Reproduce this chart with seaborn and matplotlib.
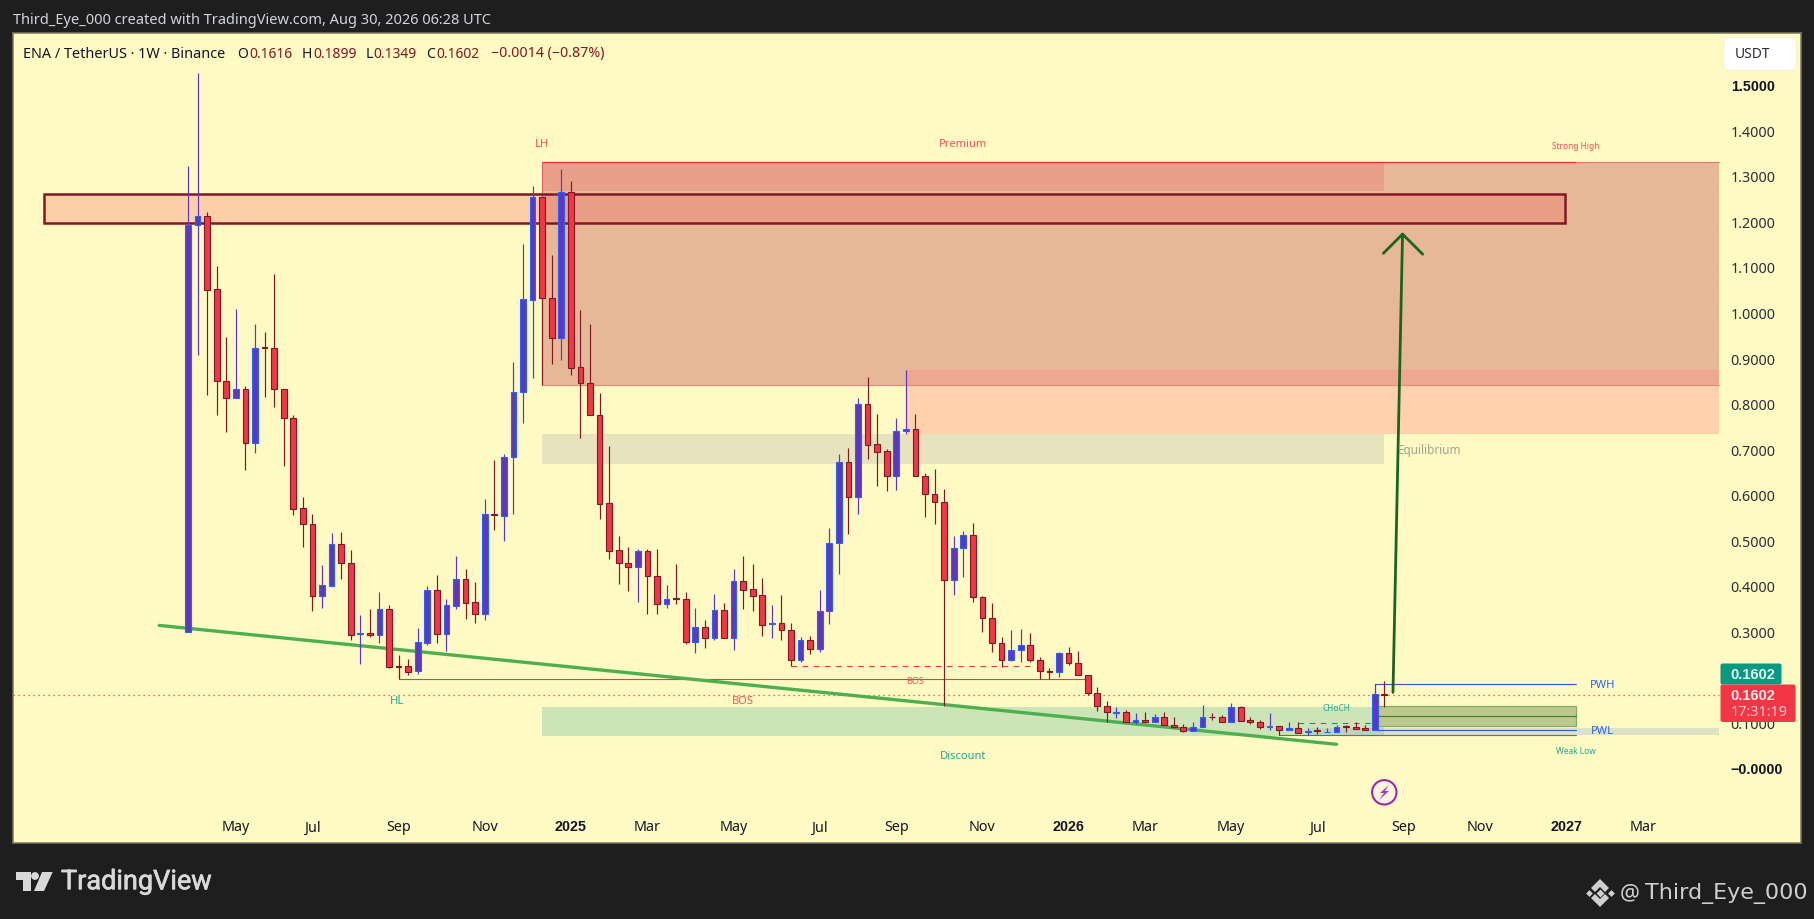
import matplotlib
matplotlib.use("Agg")
import matplotlib.pyplot as plt
import matplotlib.patheffects as pe
from matplotlib.patches import Circle, FancyBboxPatch, Polygon, Rectangle
import numpy as np
import pandas as pd
import seaborn as sns

# weekly candles, ENA / USDT
opens = [0.299, 1.191, 1.211, 1.051, 0.849, 0.813, 0.831, 0.714, 0.924, 0.921, 0.831, 0.768, 0.570, 0.535,
         0.378, 0.400, 0.491, 0.449, 0.295, 0.296, 0.293, 0.350, 0.223, 0.223, 0.213, 0.274, 0.391, 0.295,
         0.356, 0.415, 0.364, 0.337, 0.557, 0.554, 0.682, 0.825, 1.028, 1.253, 1.031, 0.945, 1.264, 0.880,
         0.846, 0.776, 0.581, 0.478, 0.451, 0.442, 0.476, 0.421, 0.359, 0.373, 0.370, 0.277, 0.309, 0.286,
         0.346, 0.286, 0.410, 0.392, 0.379, 0.316, 0.318, 0.304, 0.238, 0.280, 0.262, 0.344, 0.493, 0.671,
         0.594, 0.798, 0.711, 0.695, 0.640, 0.739, 0.744, 0.642, 0.601, 0.585, 0.413, 0.482, 0.511, 0.375,
         0.329, 0.275, 0.238, 0.260, 0.269, 0.236, 0.212, 0.210, 0.252, 0.230, 0.205, 0.164, 0.137, 0.121,
         0.122, 0.100, 0.105, 0.100, 0.111, 0.095, 0.091, 0.082, 0.091, 0.112, 0.111, 0.102, 0.133, 0.105,
         0.100, 0.091, 0.092, 0.084, 0.087, 0.078, 0.083, 0.079, 0.080, 0.092, 0.091, 0.087, 0.083, 0.1616]
closes = [1.192, 1.212, 1.050, 0.850, 0.813, 0.831, 0.714, 0.921, 0.923, 0.831, 0.768, 0.569, 0.535, 0.378,
          0.402, 0.491, 0.449, 0.293, 0.297, 0.291, 0.348, 0.222, 0.222, 0.211, 0.276, 0.391, 0.295, 0.358,
          0.415, 0.363, 0.337, 0.558, 0.556, 0.682, 0.825, 1.029, 1.253, 1.031, 0.943, 1.264, 0.879, 0.846,
          0.776, 0.580, 0.477, 0.449, 0.442, 0.476, 0.421, 0.359, 0.372, 0.372, 0.277, 0.309, 0.286, 0.346,
          0.286, 0.410, 0.391, 0.378, 0.315, 0.318, 0.304, 0.238, 0.280, 0.262, 0.344, 0.493, 0.671, 0.594,
          0.798, 0.710, 0.694, 0.640, 0.739, 0.744, 0.642, 0.601, 0.585, 0.413, 0.482, 0.511, 0.375, 0.329,
          0.275, 0.238, 0.260, 0.269, 0.236, 0.212, 0.211, 0.252, 0.230, 0.205, 0.164, 0.137, 0.122, 0.122,
          0.100, 0.105, 0.100, 0.111, 0.095, 0.091, 0.082, 0.091, 0.113, 0.111, 0.102, 0.133, 0.104, 0.100,
          0.089, 0.092, 0.084, 0.087, 0.077, 0.082, 0.082, 0.080, 0.091, 0.091, 0.086, 0.083, 0.162, 0.1602]
highs = [1.322, 1.526, 1.220, 1.103, 0.946, 1.008, 0.838, 0.975, 0.958, 1.085, 0.831, 0.775, 0.595, 0.558,
         0.446, 0.516, 0.518, 0.479, 0.336, 0.349, 0.386, 0.358, 0.247, 0.239, 0.307, 0.400, 0.424, 0.371,
         0.465, 0.437, 0.408, 0.591, 0.676, 0.689, 0.891, 1.150, 1.278, 1.253, 1.126, 1.315, 1.289, 1.006,
         0.975, 0.823, 0.706, 0.509, 0.485, 0.481, 0.481, 0.481, 0.402, 0.448, 0.386, 0.351, 0.325, 0.382,
         0.362, 0.437, 0.465, 0.448, 0.417, 0.358, 0.380, 0.318, 0.287, 0.289, 0.391, 0.527, 0.689, 0.703,
         0.812, 0.858, 0.777, 0.700, 0.768, 0.874, 0.777, 0.648, 0.656, 0.612, 0.509, 0.520, 0.538, 0.377,
         0.362, 0.287, 0.303, 0.305, 0.296, 0.243, 0.219, 0.254, 0.265, 0.256, 0.205, 0.177, 0.146, 0.133,
         0.127, 0.121, 0.123, 0.119, 0.123, 0.112, 0.096, 0.102, 0.138, 0.121, 0.116, 0.143, 0.135, 0.111,
         0.105, 0.121, 0.092, 0.100, 0.100, 0.087, 0.091, 0.087, 0.094, 0.094, 0.100, 0.094, 0.184, 0.1899]
lows = [0.299, 0.907, 0.819, 0.774, 0.738, 0.813, 0.655, 0.692, 0.815, 0.793, 0.664, 0.556, 0.486, 0.345,
        0.352, 0.400, 0.415, 0.280, 0.229, 0.288, 0.274, 0.220, 0.195, 0.204, 0.206, 0.269, 0.274, 0.257,
        0.349, 0.327, 0.318, 0.325, 0.523, 0.499, 0.558, 0.758, 0.857, 0.840, 0.886, 0.896, 0.863, 0.725,
        0.776, 0.547, 0.459, 0.405, 0.389, 0.365, 0.339, 0.337, 0.352, 0.361, 0.272, 0.253, 0.263, 0.282,
        0.286, 0.259, 0.348, 0.345, 0.290, 0.286, 0.282, 0.223, 0.233, 0.251, 0.255, 0.316, 0.426, 0.514,
        0.558, 0.678, 0.620, 0.607, 0.611, 0.733, 0.642, 0.552, 0.536, 0.135, 0.380, 0.420, 0.365, 0.299,
        0.255, 0.221, 0.235, 0.233, 0.233, 0.195, 0.195, 0.200, 0.227, 0.205, 0.160, 0.124, 0.102, 0.110,
        0.100, 0.097, 0.100, 0.100, 0.095, 0.088, 0.079, 0.082, 0.091, 0.106, 0.102, 0.102, 0.104, 0.097,
        0.086, 0.083, 0.072, 0.084, 0.077, 0.072, 0.075, 0.079, 0.080, 0.080, 0.086, 0.083, 0.083, 0.1349]

price_ticks = [1.5, 1.4, 1.3, 1.2, 1.1, 1.0, 0.9, 0.8, 0.7, 0.6, 0.5, 0.4, 0.3, 0.2, 0.1, 0.0]
price_labels = ["1.5000", "1.4000", "1.3000", "1.2000", "1.1000", "1.0000", "0.9000", "0.8000",
                "0.7000", "0.6000", "0.5000", "0.4000", "0.3000", "0.2000", "0.1000", "\u22120.0000"]
month_bars = [5, 13, 22, 31, 40, 48, 57, 66, 74, 83, 92, 100, 109, 118, 127, 135, 144, 152]
month_labels = ["May", "Jul", "Sep", "Nov", "2025", "Mar", "May", "Jul", "Sep", "Nov", "2026",
                "Mar", "May", "Jul", "Sep", "Nov", "2027", "Mar"]

trend_bars = [-3, 120]
trend_prices = [0.313, 0.052]
arrow_bars = [125.9, 126.9]
arrow_prices = [0.166, 1.172]
arrow_head_bars = [124.9, 126.9, 129.0]
arrow_head_prices = [1.130, 1.172, 1.128]
last_price = 0.1602

BG = "#1e1e1e"
PAPER = "#fff9c4"
UP_FILL = "#5c38be"
UP_EDGE = "#2962ff"
UP_WICK = "#5e35c8"
DOWN_FILL = "#f23645"
DOWN_EDGE = "#801922"
RED_TXT = "#f7525f"
TEAL = "#089981"
TEAL_TXT = "#22ab94"
BLUE = "#2f55d4"
BOLD_FONT = "Liberation Sans"

sns.set_theme(style="white")
plt.rcParams["font.family"] = ["Noto Sans", "DejaVu Sans"]

fig = plt.figure(figsize=(18.14, 9.2), dpi=100, facecolor=BG)
ax = fig.add_axes([13.4 / 1814, 76 / 920, 1787.3 / 1814, 810 / 920], facecolor=PAPER)
ax.set_xlim(-18.24, 168.5)
ax.set_ylim(-0.1647, 1.6136)


def zone(x0, x1, p0, p1, color, z=1, **kw):
    ax.add_patch(Rectangle((x0, p0), x1 - x0, p1 - p0, facecolor=color, edgecolor="none", zorder=z, **kw))


# smart money zones
zone(37, 160, 0.840, 1.330, "#e6b898")
zone(37, 125, 1.266, 1.330, "#e9a08a", z=1.1)
zone(75, 160, 0.840, 0.874, "#eea791", z=1.1)
zone(75, 160, 0.733, 0.840, "#ffd2ad")
zone(37, 125, 0.667, 0.733, "#e6e3bd", z=1.2)
zone(37, 125, 0.070, 0.134, "#cde4b6")
zone(117, 160, 0.0724, 0.0878, "#9fb8c8", z=1.2, alpha=0.35)
ax.plot([37, 145], [1.330, 1.330], color="#e0303a", lw=0.9, zorder=1.5)
ax.plot([145, 160], [1.330, 1.330], color="#e68070", lw=0.9, zorder=1.5)
ax.plot([37, 37], [0.840, 1.330], color="#e0606a", lw=0.8, zorder=1.5)
ax.plot([37, 160], [0.840, 0.840], color="#e58b78", lw=0.8, zorder=1.5)

# the big supply box
ax.add_patch(Rectangle((-15, 1.196), 158.9, 0.065, facecolor=(247 / 255, 70 / 255, 74 / 255, 0.23),
                       edgecolor=DOWN_EDGE, lw=1.8, zorder=2))

# previous week box
ax.add_patch(Rectangle((124, 0.093), 21, 0.0424, facecolor="#bbc98e", edgecolor="#7fb069", lw=0.9, zorder=2))
ax.plot([124, 145], [0.1135, 0.1135], color="#4f7f2f", lw=0.9, zorder=2.1)

# structure lines
ax.plot([22, 22], [0.195, 0.222], color=DOWN_FILL, lw=0.8, zorder=2.2)
ax.plot([22, 94], [0.1947, 0.1947], color=DOWN_FILL, lw=0.8, zorder=2.2)
ax.plot([63, 88], [0.2232, 0.2232], color=DOWN_FILL, lw=0.8, ls=(0, (5, 5)), zorder=2.2)
ax.plot([116, 124], [0.0995, 0.0995], color=TEAL, lw=0.8, ls=(0, (5, 5)), zorder=2.2)
ax.plot([114, 145], [0.0717, 0.0717], color=TEAL, lw=0.8, zorder=2.2)
ax.plot([124, 145], [0.0827, 0.0827], color=BLUE, lw=0.8, zorder=2.2)
ax.plot([124, 124, 145], [0.162, 0.1837, 0.1837], color=BLUE, lw=0.8, zorder=2.2)
ax.plot([-18.24, 160], [last_price, last_price], color="#d0453f", lw=0.9, ls=(0, (1, 3)), zorder=2.2)

trend = pd.DataFrame({"bar": trend_bars, "price": trend_prices})
sns.lineplot(data=trend, x="bar", y="price", color="#4caf50", lw=2.4, ax=ax, zorder=3,
             solid_capstyle="round", errorbar=None)

# candles
candles = pd.DataFrame({"open": opens, "high": highs, "low": lows, "close": closes})
candles["bar"] = np.arange(len(candles))
candles["up"] = candles["close"] >= candles["open"]
for is_up, part in candles.groupby("up"):
    ax.vlines(part["bar"], part["low"], part["high"], color=UP_WICK if is_up else DOWN_EDGE, lw=0.85, zorder=4)
    bottoms = part[["open", "close"]].min(axis=1)
    heights = (part["close"] - part["open"]).abs()
    ax.bar(part["bar"], heights, bottom=bottoms, width=0.6, color=UP_FILL if is_up else DOWN_FILL,
           edgecolor=UP_EDGE if is_up else DOWN_EDGE, linewidth=0.8, zorder=5)

# target arrow
ax.plot(arrow_bars, arrow_prices, color="#1b6420", lw=2.0, zorder=6, solid_capstyle="round")
ax.plot(arrow_head_bars, arrow_head_prices, color="#1b6420", lw=2.0, zorder=6, solid_capstyle="round")

# drawing labels
ax.text(37, 1.372, "LH", color=RED_TXT, fontsize=8, ha="center", va="center", zorder=7)
ax.text(81, 1.372, "Premium", color=RED_TXT, fontsize=8, ha="center", va="center", zorder=7)
ax.text(145, 1.366, "Strong High", color=RED_TXT, fontsize=6, ha="center", va="center", zorder=7)
ax.text(129.7, 0.7, "Equilibrium", color="#a3a38f", fontsize=8.5, ha="center", va="center", zorder=7)
ax.text(21.8, 0.149, "HL", color=TEAL_TXT, fontsize=8, ha="center", va="center", zorder=7)
ax.text(58, 0.149, "BOS", color=RED_TXT, fontsize=8, ha="center", va="center", zorder=7)
ax.text(76, 0.192, "BOS", color=RED_TXT, fontsize=6.5, ha="center", va="center", zorder=7)
ax.text(81, 0.028, "Discount", color=TEAL_TXT, fontsize=8, ha="center", va="center", zorder=7)
ax.text(120, 0.132, "CHoCH", color=TEAL_TXT, fontsize=6, ha="center", va="center", zorder=7)
ax.text(147.8, 0.184, "PWH", color=UP_EDGE, fontsize=8, ha="center", va="center", zorder=7)
ax.text(147.8, 0.0825, "PWL", color=UP_EDGE, fontsize=8, ha="center", va="center", zorder=7)
ax.text(145, 0.038, "Weak Low", color=TEAL_TXT, fontsize=6, ha="center", va="center", zorder=7)

# axes, drawn inside the pane like the price scale
ax.set_xlabel("")
ax.set_ylabel("")
ax.set_xticks(month_bars, month_labels)
ax.yaxis.tick_right()
ax.set_yticks(price_ticks, price_labels)
ax.tick_params(axis="x", length=0, pad=-17, labelsize=10.3, labelcolor="#131722")
ax.tick_params(axis="y", length=0, pad=-50.4, labelsize=10.3, labelcolor="#2a2e39")
for lab in ax.get_xticklabels():
    if lab.get_text().startswith("202"):
        lab.set_fontweight("bold")
        lab.set_family(BOLD_FONT)
for lab in ax.get_yticklabels():
    lab.set_ha("left")
    if lab.get_text() in ("1.5000", "\u22120.0000"):
        lab.set_fontweight("bold")
        lab.set_family(BOLD_FONT)
        lab.set_color("#131722")
ax.grid(False)
for side in ax.spines.values():
    side.set_color("#77775f")
    side.set_linewidth(1.1)

# screenshot chrome on top, in picture pixels
top = fig.add_axes([0, 0, 1, 1], facecolor="none")
top.set_xlim(0, 1814)
top.set_ylim(920, 0)
top.axis("off")

top.text(13, 20, "Third_Eye_000 created with TradingView.com, Aug 30, 2026 06:28 UTC", color="#d1d4dc",
         fontsize=10.5, va="center")
top.text(23, 54, "ENA / TetherUS \u00b7 1W \u00b7 Binance", color="#131722", fontsize=10.4, va="center")
legend_keys = [("O", 237, "0.1616", 249.5), ("H", 302, "0.1899", 313), ("L", 366, "0.1349", 373.5),
               ("C", 426.5, "0.1602", 436.5)]
for key, kx, val, vx in legend_keys:
    top.text(kx, 54, key, color="#131722", fontsize=10, va="center")
    top.text(vx, 54, val, color=DOWN_EDGE, fontsize=10, va="center")
top.text(491, 54, "\u22120.0014 (\u22120.87%)", color=DOWN_EDGE, fontsize=10.2, va="center")

top.add_patch(FancyBboxPatch((1727, 42), 66, 26, boxstyle="round,pad=3,rounding_size=5",
                             facecolor="white", edgecolor="#eeeeee", lw=0.5))
top.text(1735, 54, "USDT", color="#2a2e39", fontsize=10, va="center")

# last price tags
top.add_patch(FancyBboxPatch((1721, 665), 60, 20, boxstyle="round,pad=0.5,rounding_size=2",
                             facecolor=TEAL, edgecolor="none"))
top.text(1753, 675, "0.1602", color="#e8f5f0", fontsize=10.5, fontweight="bold", family=BOLD_FONT,
         ha="center", va="center")
top.add_patch(FancyBboxPatch((1721, 686), 74, 36.5, boxstyle="round,pad=0.5,rounding_size=2",
                             facecolor=DOWN_FILL, edgecolor="none"))
top.text(1730.7, 695.7, "0.1602", color="#ffe8e8", fontsize=10.5, fontweight="bold", family=BOLD_FONT, va="center")
top.text(1730.7, 713, "17:31:19", color="#ffc9c9", fontsize=10.3, va="center")

# lightning mark
top.add_patch(Circle((1384.3, 793.3), 12.2, facecolor="#fbf3dc", edgecolor="#9c27b0", lw=1.5))
top.add_patch(Polygon([(1389, 786), (1380, 794), (1384, 794), (1379, 801), (1389, 792), (1385, 792)],
                      closed=True, facecolor="#a63ab8", edgecolor="none"))

# TradingView logo
logo = "#d9d9d9"
top.add_patch(Polygon([(15.6, 873), (31, 873), (31, 892), (23, 892), (23, 881), (15.6, 881)], closed=True,
                      facecolor=logo, edgecolor="none"))
top.add_patch(Circle((35, 877), 3.9, facecolor=logo, edgecolor="none"))
top.add_patch(Polygon([(42, 873), (52.7, 873), (44, 892), (34, 892)], closed=True, facecolor=logo, edgecolor="none"))
top.text(61, 882.7, "TradingView", color=logo, fontsize=19.5, family="Roboto", va="center",
         path_effects=[pe.withStroke(linewidth=0.5, foreground=logo)])

# watermark
wm = "#cfcfcf"
top.add_patch(Polygon([(1600, 880), (1609, 889), (1605, 893), (1600, 888), (1595, 893), (1591, 889)],
                      closed=True, facecolor=wm, edgecolor="none"))
top.add_patch(Polygon([(1600, 908), (1609, 899), (1605, 895), (1600, 900), (1595, 895), (1591, 899)],
                      closed=True, facecolor=wm, edgecolor="none"))
for dx, s in [(-11, 12), (11, 12), (0, 16)]:
    top.scatter(1600 + dx, 894, marker="D", s=s, color=wm, linewidths=0)
top.text(1620, 894, "@", color=wm, fontsize=16, va="center")
top.text(1645, 894, "Third_Eye_000", color=wm, fontsize=16, family="DejaVu Sans", va="center")

fig.savefig("out.png", dpi=100, facecolor=BG)
plt.close(fig)
